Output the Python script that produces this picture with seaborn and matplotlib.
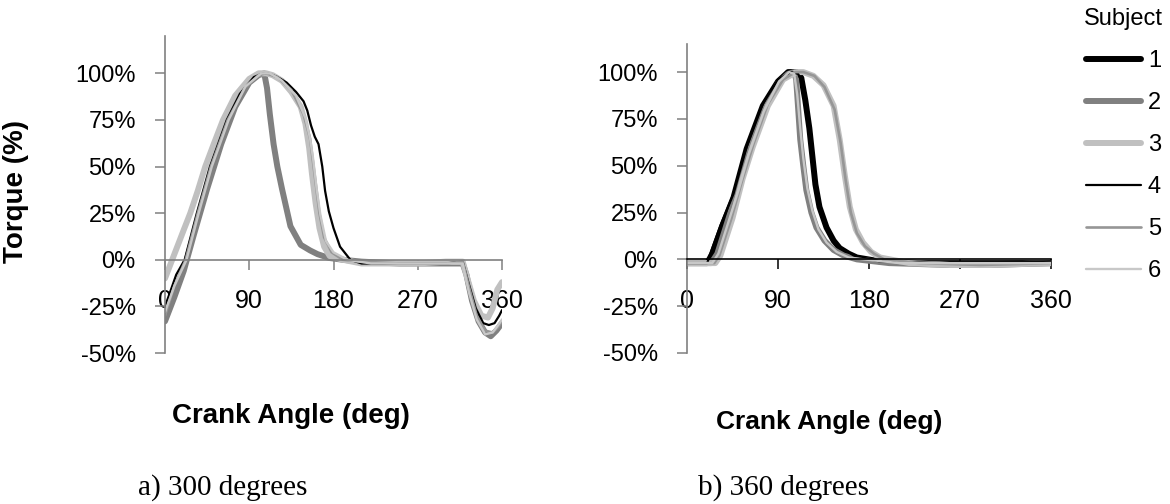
import pandas as pd
import matplotlib
matplotlib.use("Agg")
import matplotlib.pyplot as plt
from matplotlib.lines import Line2D
from matplotlib.ticker import FuncFormatter
import seaborn as sns

sns.set_theme(style="white")
plt.rcParams['font.family'] = ['Liberation Sans', 'DejaVu Sans']
plt.rcParams['text.color'] = 'black'
plt.rcParams['axes.labelcolor'] = 'black'

# ---- torque profiles (crank angle in degrees, torque in % of peak) ----
# a) 300 degrees
a_s2_ang = [0, 10, 20, 30, 45, 60, 75, 90, 100, 106, 109, 112, 116, 120, 125, 134, 145, 155, 163, 175, 190, 210, 250, 290, 318, 322, 328, 335, 342, 348, 354, 360]
a_s2_tq = [-33, -20, -6, 12, 38, 62, 82, 95, 99, 100, 92, 78, 62, 50, 38, 18, 8, 5, 3, 1, 0, -1, -2, -2, -2, -8, -22, -33, -39, -41, -38, -34]
a_s3_ang = [0, 10, 20, 27, 35, 43, 52, 62, 75, 90, 100, 108, 115, 125, 135, 145, 150, 154, 157, 161, 165, 170, 176, 190, 210, 240, 270, 300, 318, 323, 330, 338, 345, 350, 355, 360]
a_s3_tq = [-10, 3, 16, 25, 37, 50, 62, 75, 88, 97, 100, 100, 99, 96, 90, 82, 73, 60, 46, 30, 17, 7, 2, 0, -2, -2, -2, -1, -1, -10, -22, -30, -31, -26, -16, -12]
a_s4_ang = [0, 5, 12, 21, 34, 48, 66, 80, 95, 105, 110, 120, 130, 140, 148, 152, 156, 160, 164, 168, 171, 175, 180, 187, 198, 210, 240, 270, 300, 318, 324, 332, 340, 346, 352, 357, 360]
a_s4_tq = [-25, -18, -8, 0, 25, 50, 75, 89, 98, 100, 100, 98, 95, 90, 85, 80, 72, 66, 62, 50, 37, 26, 17, 7, 0, -2, -2, -2, -2, -1, -12, -26, -34, -35, -34, -30, -27]
a_s5_ang = [0, 10, 22, 35, 49, 67, 85, 100, 108, 120, 135, 148, 155, 160, 165, 170, 178, 190, 210, 250, 300, 318, 325, 333, 342, 350, 356, 360]
a_s5_tq = [-30, -14, 0, 25, 50, 75, 92, 99, 100, 98, 91, 78, 65, 45, 25, 12, 4, 0, -1, -2, -2, -1, -15, -30, -38, -39, -36, -33]
a_s6_ang = [0, 10, 23, 36, 50, 68, 86, 103, 112, 125, 140, 150, 155, 158, 162, 166, 172, 180, 195, 220, 260, 300, 318, 325, 333, 342, 350, 356, 360]
a_s6_tq = [-28, -14, 0, 25, 50, 75, 93, 100, 100, 96, 88, 76, 65, 55, 38, 24, 10, 4, 0, -2, -2, -2, -2, -18, -32, -40, -39, -35, -32]

# b) 360 degrees
b_s1_ang = [0, 20, 25, 35, 46, 59, 75, 90, 100, 108, 113, 117, 121, 124, 127, 131, 138, 145, 151, 160, 168, 190, 230, 290, 360]
b_s1_tq = [-2, -2, 3, 18, 33, 59, 82, 95, 100, 100, 97, 85, 70, 55, 40, 28, 17, 10, 6, 3, 1, -1, -2, -2, -2]
b_s2_ang = [0, 24, 30, 40, 50, 60, 75, 90, 100, 106, 108, 110, 112, 115, 118, 123, 128, 136, 145, 155, 168, 200, 260, 300, 360]
b_s2_tq = [-2, -2, 3, 20, 37, 55, 78, 94, 99, 100, 96, 80, 64, 50, 37, 25, 17, 10, 5, 2, 0, -2, -3, -3, -2]
b_s3_ang = [0, 28, 33, 45, 55, 65, 80, 95, 108, 115, 125, 135, 145, 151, 156, 161, 167, 174, 182, 191, 220, 260, 300, 360]
b_s3_tq = [-2, -2, 2, 22, 43, 60, 82, 96, 100, 100, 98, 93, 82, 64, 45, 28, 16, 9, 4, 1, -2, -3, -3, -2]
b_s4_ang = [0, 20, 23, 33, 46, 59, 75, 90, 103, 110, 114, 118, 122, 126, 132, 140, 150, 165, 190, 250, 360]
b_s4_tq = [-2, -2, 3, 18, 35, 60, 83, 96, 100, 99, 94, 82, 64, 44, 27, 15, 7, 2, -1, -2, -1]
b_s5_ang = [0, 27, 32, 44, 55, 66, 80, 95, 107, 115, 126, 136, 146, 152, 157, 162, 168, 176, 185, 195, 230, 290, 360]
b_s5_tq = [-2, -2, 2, 22, 43, 62, 83, 96, 100, 100, 98, 92, 80, 62, 42, 25, 14, 7, 3, 0, -2, -3, -2]
b_s6_ang = [0, 25, 31, 41, 51, 61, 76, 91, 101, 106, 109, 112, 115, 119, 124, 130, 138, 148, 160, 175, 210, 280, 360]
b_s6_tq = [-2, -2, 3, 20, 37, 56, 79, 95, 100, 99, 88, 70, 54, 38, 26, 16, 9, 4, 1, 0, -2, -2, -2]

subjects = ["1", "2", "3", "4", "5", "6"]
x_ticks = [0, 90, 180, 270, 360]
y_ticks = [-50, -25, 0, 25, 50, 75, 100]

colors = {"1": "#000000", "2": "#808080", "3": "#c0c0c0",
          "4": "#000000", "5": "#969696", "6": "#c8c8c8"}
widths = {"1": 4.3, "2": 4.3, "3": 4.3, "4": 1.6, "5": 1.9, "6": 1.7}


def frame(series):
    rows = []
    for subj, ang, tq in series:
        for a, t in zip(ang, tq):
            rows.append({"subject": subj, "angle": a, "torque": t})
    return pd.DataFrame(rows)


df_a = frame([("2", a_s2_ang, a_s2_tq), ("3", a_s3_ang, a_s3_tq), ("4", a_s4_ang, a_s4_tq),
              ("5", a_s5_ang, a_s5_tq), ("6", a_s6_ang, a_s6_tq)])
df_b = frame([("1", b_s1_ang, b_s1_tq), ("2", b_s2_ang, b_s2_tq), ("3", b_s3_ang, b_s3_tq),
              ("4", b_s4_ang, b_s4_tq), ("5", b_s5_ang, b_s5_tq), ("6", b_s6_ang, b_s6_tq)])

W, H = 1170, 504
fig = plt.figure(figsize=(W / 100, H / 100), dpi=100)
ax_a = fig.add_axes([165 / W, 1 - 353 / H, 337 / W, 317 / H])
ax_b = fig.add_axes([687 / W, 1 - 353 / H, 364 / W, 309 / H])


def draw(ax, df, ytop, xcol, ycol):
    order = [s for s in subjects if s in set(df["subject"])]
    sns.lineplot(data=df, x="angle", y="torque", hue="subject", size="subject",
                 hue_order=order, size_order=order,
                 palette={s: colors[s] for s in order},
                 sizes={s: widths[s] for s in order},
                 estimator=None, sort=False, legend=False, ax=ax)
    ax.set_xlim(0, 360)
    ax.set_ylim(-50, ytop)
    ax.spines["top"].set_visible(False)
    ax.spines["right"].set_visible(False)
    ax.spines["bottom"].set_position(("data", 0))
    ax.spines["bottom"].set_color(xcol)
    ax.spines["left"].set_color(ycol)
    for s in ("bottom", "left"):
        ax.spines[s].set_linewidth(1.2)
    ax.set_xticks(x_ticks)
    ax.set_yticks(y_ticks)
    ax.yaxis.set_major_formatter(FuncFormatter(lambda v, p: f"{v:.0f}%"))
    ax.tick_params(axis="x", bottom=True, direction="out", length=7, width=1.1,
                   pad=14, labelsize=18, color=xcol, labelcolor="black")
    ax.tick_params(axis="y", left=True, direction="out", length=7, width=1.1,
                   pad=14, labelsize=17, color=ycol, labelcolor="black")
    ax.grid(False)
    ax.set_facecolor("none")
    ax.set_xlabel("")
    ax.set_ylabel("")


draw(ax_a, df_a, 120, "#808080", "#808080")
draw(ax_b, df_b, 115, "#000000", "#808080")

ax_a.set_ylabel("Torque (%)", fontsize=20, fontweight="bold", color="black")
ax_a.yaxis.set_label_coords(-0.404, 0.511)
ax_a.set_xlabel("Crank Angle (deg)", fontsize=20, fontweight="bold", color="black")
ax_a.xaxis.set_label_coords(0.374, -0.158)
ax_b.set_xlabel("Crank Angle (deg)", fontsize=19, fontweight="bold", color="black")
ax_b.xaxis.set_label_coords(0.39, -0.184)

fig.text(138 / W, 1 - 488 / H, "a) 300 degrees", family="Liberation Serif",
         fontsize=21, ha="left", va="center", color="black")
fig.text(698 / W, 1 - 488 / H, "b) 360 degrees", family="Liberation Serif",
         fontsize=21, ha="left", va="center", color="black")

handles = [Line2D([], [], color=colors[s], lw=widths[s]) for s in subjects]
leg = fig.legend(handles, subjects, title="Subject", loc="upper right",
                 bbox_to_anchor=(1168 / W, 1 - 3 / H), frameon=False, fontsize=17,
                 title_fontsize=17, handlelength=2.3, handletextpad=0.3,
                 labelspacing=0.85, borderaxespad=0, borderpad=0.2)
leg.get_title().set_color("black")
for t in leg.get_texts():
    t.set_color("black")

fig.savefig("out.png", dpi=100, facecolor="white")
